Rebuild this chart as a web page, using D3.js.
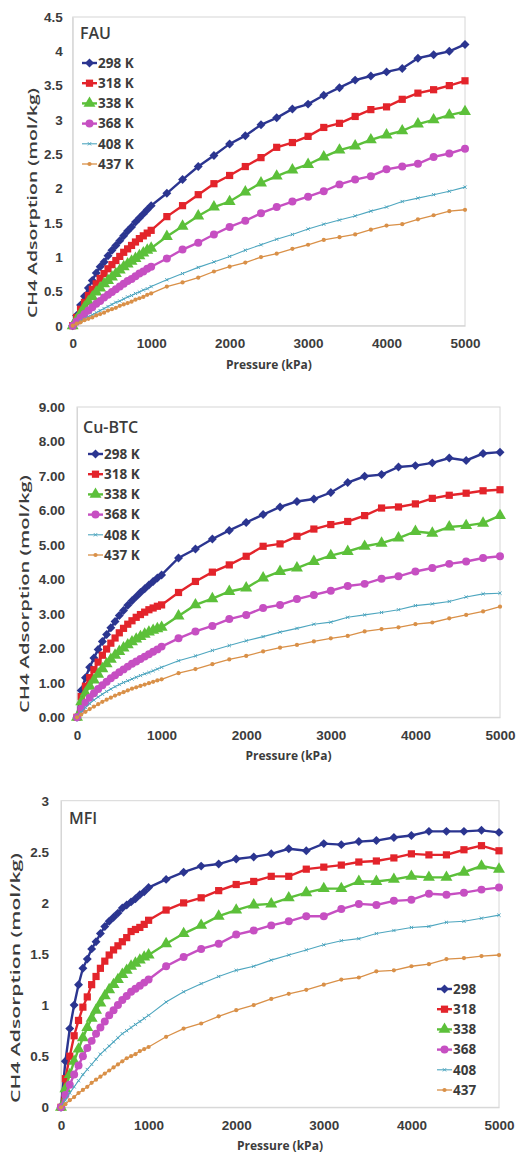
<!DOCTYPE html>
<html>
<head>
<meta charset="utf-8">
<script src="https://cdn.jsdelivr.net/npm/d3@7"></script>
<style>
  body { margin: 0; background: #fff; }
  svg { display: block; font-family: "Open Sans", "Liberation Sans", sans-serif; }
</style>
</head>
<body>
<svg id="chart" width="517" height="1158"></svg>
<script>
// pressure points (kPa), shared by every series
var pressure = [0,50,100,150,200,250,300,350,400,450,500,550,600,650,700,750,800,850,900,950,1000,
  1200,1400,1600,1800,2000,2200,2400,2600,2800,3000,3200,3400,3600,3800,4000,4200,4400,4600,4800,5000];

var temperatures = ["298", "318", "338", "368", "408", "437"];
var xTicks = [0, 1000, 2000, 3000, 4000, 5000];

// FAU
var fau298 = [0,0.15,0.30,0.43,0.55,0.66,0.77,0.86,0.93,1.02,1.10,1.17,1.24,1.31,1.38,1.44,1.51,1.57,1.63,1.69,1.75,
  1.93,2.13,2.32,2.48,2.65,2.77,2.93,3.03,3.16,3.23,3.36,3.47,3.58,3.64,3.70,3.75,3.90,3.95,4.00,4.10];
var fau318 = [0,0.12,0.24,0.34,0.44,0.53,0.61,0.69,0.76,0.83,0.89,0.95,1.01,1.07,1.12,1.17,1.22,1.27,1.31,1.35,1.39,
  1.59,1.75,1.91,2.07,2.19,2.32,2.45,2.60,2.67,2.76,2.89,2.95,3.05,3.15,3.19,3.30,3.39,3.44,3.50,3.57];
var fau338 = [0,0.09,0.18,0.27,0.35,0.42,0.49,0.55,0.61,0.66,0.71,0.76,0.81,0.86,0.90,0.94,0.98,1.02,1.06,1.10,1.13,
  1.30,1.45,1.60,1.73,1.81,1.95,2.08,2.18,2.27,2.35,2.46,2.56,2.62,2.71,2.78,2.84,2.94,3.00,3.07,3.12];
var fau368 = [0,0.06,0.12,0.17,0.22,0.27,0.32,0.36,0.41,0.45,0.49,0.53,0.57,0.61,0.65,0.68,0.72,0.76,0.79,0.83,0.86,
  0.98,1.11,1.21,1.33,1.44,1.53,1.64,1.73,1.81,1.88,1.96,2.06,2.13,2.18,2.28,2.32,2.36,2.46,2.51,2.58];
var fau408 = [0,0.03,0.07,0.10,0.13,0.16,0.19,0.22,0.25,0.28,0.31,0.34,0.36,0.39,0.42,0.44,0.47,0.49,0.52,0.54,0.57,
  0.67,0.76,0.85,0.93,1.01,1.10,1.18,1.26,1.33,1.41,1.48,1.54,1.60,1.67,1.73,1.81,1.86,1.91,1.96,2.02];
var fau437 = [0,0.03,0.05,0.08,0.10,0.12,0.15,0.17,0.19,0.22,0.24,0.26,0.29,0.31,0.33,0.35,0.38,0.40,0.42,0.45,0.47,
  0.57,0.63,0.70,0.79,0.86,0.92,1.00,1.05,1.12,1.18,1.25,1.29,1.33,1.40,1.46,1.48,1.55,1.61,1.67,1.69];

// Cu-BTC
var cu298 = [0,0.78,1.15,1.45,1.72,1.97,2.20,2.40,2.60,2.78,2.95,3.10,3.25,3.38,3.50,3.62,3.73,3.84,3.94,4.04,4.13,
  4.62,4.88,5.17,5.42,5.65,5.88,6.10,6.26,6.33,6.52,6.81,6.99,7.04,7.26,7.30,7.38,7.52,7.45,7.65,7.69];
var cu318 = [0,0.60,0.90,1.15,1.38,1.60,1.80,1.98,2.15,2.30,2.45,2.58,2.70,2.80,2.90,2.98,3.05,3.12,3.17,3.22,3.26,
  3.62,3.94,4.21,4.42,4.67,4.96,5.03,5.25,5.46,5.59,5.68,5.85,6.07,6.10,6.19,6.35,6.44,6.50,6.57,6.60];
var cu338 = [0,0.45,0.70,0.90,1.08,1.25,1.41,1.55,1.68,1.80,1.91,2.01,2.10,2.19,2.27,2.34,2.41,2.47,2.52,2.57,2.61,
  2.94,3.26,3.44,3.65,3.75,4.04,4.23,4.33,4.52,4.69,4.81,4.96,5.05,5.20,5.39,5.34,5.52,5.56,5.63,5.85];
var cu368 = [0,0.25,0.42,0.57,0.70,0.82,0.93,1.03,1.13,1.22,1.31,1.39,1.47,1.55,1.62,1.69,1.76,1.83,1.90,1.97,2.05,
  2.29,2.49,2.65,2.85,2.97,3.17,3.26,3.43,3.55,3.67,3.81,3.87,4.02,4.09,4.23,4.33,4.45,4.52,4.62,4.67];
var cu408 = [0,0.15,0.28,0.40,0.50,0.59,0.67,0.75,0.82,0.89,0.95,1.01,1.06,1.11,1.16,1.21,1.26,1.30,1.35,1.40,1.45,
  1.64,1.78,1.94,2.08,2.22,2.34,2.47,2.58,2.70,2.76,2.90,2.97,3.04,3.12,3.24,3.29,3.36,3.49,3.58,3.60];
var cu437 = [0,0.08,0.16,0.24,0.31,0.38,0.45,0.51,0.57,0.63,0.68,0.73,0.78,0.83,0.87,0.91,0.95,0.99,1.03,1.07,1.10,
  1.28,1.40,1.54,1.68,1.78,1.91,2.02,2.10,2.20,2.29,2.36,2.49,2.56,2.61,2.70,2.75,2.87,2.97,3.07,3.21];

// MFI
var mfi298 = [0,0.45,0.77,1.00,1.20,1.36,1.45,1.55,1.62,1.70,1.77,1.82,1.86,1.90,1.95,1.98,2.01,2.04,2.08,2.11,2.15,
  2.23,2.30,2.36,2.38,2.43,2.45,2.48,2.53,2.51,2.58,2.57,2.60,2.61,2.64,2.66,2.70,2.70,2.70,2.71,2.69];
var mfi318 = [0,0.28,0.50,0.70,0.85,0.98,1.08,1.20,1.28,1.36,1.43,1.49,1.54,1.58,1.62,1.66,1.72,1.74,1.76,1.79,1.83,
  1.93,2.00,2.05,2.12,2.18,2.21,2.26,2.26,2.33,2.35,2.37,2.40,2.41,2.44,2.48,2.47,2.47,2.52,2.56,2.51];
var mfi338 = [0,0.18,0.32,0.45,0.57,0.68,0.78,0.87,0.95,1.02,1.09,1.15,1.20,1.25,1.30,1.34,1.38,1.41,1.44,1.47,1.49,
  1.60,1.70,1.78,1.87,1.93,1.98,1.99,2.05,2.10,2.14,2.14,2.21,2.21,2.23,2.26,2.25,2.25,2.30,2.36,2.33];
var mfi368 = [0,0.12,0.22,0.32,0.41,0.50,0.58,0.65,0.72,0.78,0.84,0.90,0.95,1.00,1.05,1.09,1.13,1.16,1.19,1.22,1.25,
  1.38,1.47,1.55,1.60,1.69,1.73,1.78,1.82,1.87,1.87,1.94,1.99,1.98,2.02,2.03,2.09,2.08,2.10,2.13,2.15];
var mfi408 = [0,0.07,0.14,0.20,0.26,0.32,0.37,0.42,0.47,0.52,0.56,0.60,0.64,0.68,0.72,0.75,0.78,0.81,0.84,0.87,0.90,
  1.03,1.13,1.21,1.28,1.34,1.38,1.44,1.49,1.54,1.59,1.63,1.65,1.70,1.73,1.76,1.77,1.81,1.82,1.85,1.88];
var mfi437 = [0,0.03,0.07,0.10,0.14,0.17,0.20,0.24,0.27,0.30,0.33,0.36,0.39,0.42,0.45,0.48,0.50,0.52,0.55,0.57,0.59,
  0.69,0.77,0.82,0.89,0.95,1.00,1.06,1.11,1.15,1.20,1.25,1.27,1.33,1.34,1.38,1.40,1.45,1.46,1.48,1.49];

// series look, same order as temperatures
var estilos = [
  {color: "#2b3590", sym: d3.symbolSquare, size: 40, rot: 45, w: 2.4},
  {color: "#e3242b", sym: d3.symbolSquare, size: 52, rot: 0, w: 2.4},
  {color: "#5cc03a", sym: d3.symbolTriangle, size: 62, rot: 0, w: 2.4},
  {color: "#c64fc2", sym: d3.symbolCircle, size: 50, rot: 0, w: 2.4},
  {color: "#4ea6bf", sym: d3.symbolTimes, size: 8, rot: 0, w: 1.1},
  {color: "#d99048", sym: d3.symbolCircle, size: 14, rot: 0, w: 1.3}
];

var textColor = "#3c3c3c";
var svg = d3.select("#chart");

function dibujarPanel(cfg) {
  var x = d3.scaleLinear().domain([0, 5000]).range([cfg.left, cfg.right]);
  var y = d3.scaleLinear().domain([0, cfg.yMax]).range([cfg.bottom, cfg.top]);
  var g = svg.append("g");

  // plot area frame
  g.append("rect")
    .attr("x", cfg.left).attr("y", cfg.top)
    .attr("width", cfg.right - cfg.left).attr("height", cfg.bottom - cfg.top)
    .attr("fill", "none").attr("stroke", "#d6d6d6").attr("stroke-width", 1);

  var yAxis = g.append("g")
    .attr("transform", "translate(" + cfg.left + ",0)")
    .call(d3.axisLeft(y).tickValues(d3.range(0, cfg.yMax + 0.001, cfg.yStep))
      .tickFormat(d3.format(cfg.yFmt)).tickSize(0).tickPadding(cfg.yPad));
  var xAxis = g.append("g")
    .attr("transform", "translate(0," + cfg.bottom + ")")
    .call(d3.axisBottom(x).tickValues(xTicks).tickFormat(d3.format("d"))
      .tickSize(0).tickPadding(13));
  [xAxis, yAxis].forEach(function (a) {
    a.select(".domain").attr("stroke", "#d6d6d6");
    a.selectAll("text").attr("fill", textColor)
      .style("font-size", "13.5px").style("font-weight", "700");
  });

  g.append("text")
    .attr("x", (cfg.left + cfg.right) / 2 + cfg.xTitleDx).attr("y", cfg.bottom + 43)
    .attr("text-anchor", "middle").attr("fill", textColor)
    .style("font-size", "12px").style("font-weight", "700")
    .text("Pressure (kPa)");

  g.append("text")
    .attr("transform", "translate(" + cfg.yTitleX + "," + cfg.yTitleY + ") rotate(-90)")
    .attr("text-anchor", "middle").attr("fill", textColor)
    .attr("textLength", cfg.yTitleLen).attr("lengthAdjust", "spacingAndGlyphs")
    .style("font-size", "13px").style("font-weight", "600")
    .text("CH4 Adsorption (mol/kg)");

  g.append("text")
    .attr("x", cfg.nameX).attr("y", cfg.nameY)
    .attr("fill", textColor).style("font-size", "16px").style("font-weight", "600")
    .text(cfg.name);

  var linea = d3.line()
    .x(function (d) { return x(d[0]); })
    .y(function (d) { return y(d[1]); });

  cfg.series.forEach(function (valores, i) {
    var st = estilos[i];
    var puntos = pressure.map(function (p, j) { return [p, valores[j]]; });
    var sg = g.append("g");
    sg.append("path").datum(puntos)
      .attr("d", linea).attr("fill", "none")
      .attr("stroke", st.color).attr("stroke-width", st.w);
    sg.selectAll("path.m").data(puntos).enter().append("path")
      .attr("class", "m")
      .attr("d", d3.symbol().type(st.sym).size(st.size))
      .attr("transform", function (d) {
        return "translate(" + x(d[0]) + "," + y(d[1]) + ") rotate(" + st.rot + ")";
      })
      .attr("fill", st.color)
      .attr("stroke", st.sym === d3.symbolTimes ? st.color : "none")
      .attr("stroke-width", 1);
  });

  // legend
  var leg = g.append("g");
  temperatures.forEach(function (t, i) {
    var st = estilos[i];
    var ly = cfg.legY + i * 20.2;
    leg.append("line")
      .attr("x1", cfg.legX).attr("x2", cfg.legX + 15)
      .attr("y1", ly).attr("y2", ly)
      .attr("stroke", st.color).attr("stroke-width", st.w);
    leg.append("path")
      .attr("d", d3.symbol().type(st.sym).size(st.size))
      .attr("transform", "translate(" + (cfg.legX + 7.5) + "," + ly + ") rotate(" + st.rot + ")")
      .attr("fill", st.color)
      .attr("stroke", st.sym === d3.symbolTimes ? st.color : "none");
    leg.append("text")
      .attr("x", cfg.legX + 16).attr("y", ly).attr("dy", "0.36em")
      .attr("fill", textColor).style("font-size", "13.5px").style("font-weight", "700")
      .text(t + cfg.unit);
  });
}

dibujarPanel({
  name: "FAU", nameX: 80, nameY: 39,
  left: 72.7, right: 465, top: 17, bottom: 325.7,
  yMax: 4.5, yStep: 0.5, yFmt: "", yPad: 10,
  yTitleX: 37, yTitleY: 203, yTitleLen: 230, xTitleDx: 0,
  legX: 82, legY: 63, unit: " K",
  series: [fau298, fau318, fau338, fau368, fau408, fau437]
});

dibujarPanel({
  name: "Cu-BTC", nameX: 83, nameY: 433,
  left: 77, right: 500, top: 407, bottom: 717.3,
  yMax: 9, yStep: 1, yFmt: ".2f", yPad: 12,
  yTitleX: 29, yTitleY: 594, yTitleLen: 238, xTitleDx: 0,
  legX: 88, legY: 454, unit: " K",
  series: [cu298, cu318, cu338, cu368, cu408, cu437]
});

dibujarPanel({
  name: "MFI", nameX: 69, nameY: 824,
  left: 61, right: 499, top: 800.7, bottom: 1107.3,
  yMax: 3, yStep: 0.5, yFmt: "", yPad: 12,
  yTitleX: 20, yTitleY: 978, yTitleLen: 250, xTitleDx: 0,
  legX: 437, legY: 989, unit: "",
  series: [mfi298, mfi318, mfi338, mfi368, mfi408, mfi437]
});
</script>
</body>
</html>
